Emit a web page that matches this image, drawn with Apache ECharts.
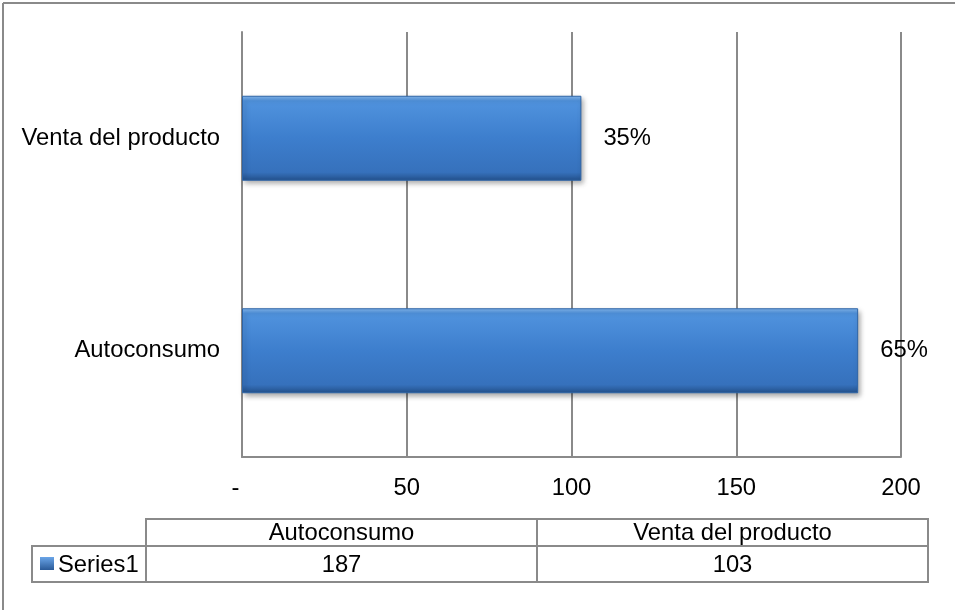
<!DOCTYPE html>
<html>
<head>
<meta charset="utf-8">
<script src="https://cdn.jsdelivr.net/npm/echarts@6/dist/echarts.min.js"></script>
<style>
html,body{margin:0;padding:0;background:#fff;}
#main{width:955px;height:610px;}
</style>
</head>
<body>
<div id="main"></div>
<script>
// ---- data ----
var categories = ['Autoconsumo', 'Venta del producto'];
var values = [187, 103];
var pctLabels = ['65%', '35%'];
var seriesName = 'Series1';
var xTicks = [0, 50, 100, 150, 200];

var FONT = 'Liberation Sans, Arial, sans-serif';
var FS = 23.8;
var LINE = '#8a8a8a';

var chart = echarts.init(document.getElementById('main'), null, {renderer: 'canvas'});

var barColor = new echarts.graphic.LinearGradient(0, 0, 0, 1, [
  {offset: 0, color: '#86baf0'},
  {offset: 0.06, color: '#5093de'},
  {offset: 0.5, color: '#3d7ecd'},
  {offset: 0.9, color: '#3671bc'},
  {offset: 1, color: '#23508a'}
]);

// table layout (positions in code)
var tblX0 = 146, tblX1 = 928, rowLabelX0 = 32;
var hdrY0 = 519, hdrY1 = 546, rowY1 = 582;
var colW = (tblX1 - tblX0) / categories.length;

var graphics = [];
// outer frame (left & top)
graphics.push({type: 'line', shape: {x1: 3, y1: 3, x2: 955, y2: 3}, style: {stroke: LINE, lineWidth: 2}, silent: true});
graphics.push({type: 'line', shape: {x1: 3, y1: 3, x2: 3, y2: 610}, style: {stroke: LINE, lineWidth: 2}, silent: true});
// header row box
graphics.push({type: 'rect', shape: {x: tblX0, y: hdrY0, width: tblX1 - tblX0, height: hdrY1 - hdrY0}, style: {fill: 'none', stroke: LINE, lineWidth: 2}});
// data row box including label cell
graphics.push({type: 'rect', shape: {x: rowLabelX0, y: hdrY1, width: tblX1 - rowLabelX0, height: rowY1 - hdrY1}, style: {fill: 'none', stroke: LINE, lineWidth: 2}});
graphics.push({type: 'line', shape: {x1: tblX0, y1: hdrY1, x2: tblX0, y2: rowY1}, style: {stroke: LINE, lineWidth: 2}});
for (var i = 1; i < categories.length; i++) {
  var xx = tblX0 + colW * i;
  graphics.push({type: 'line', shape: {x1: xx, y1: hdrY0, x2: xx, y2: rowY1}, style: {stroke: LINE, lineWidth: 2}});
}
categories.forEach(function (c, i) {
  var cx = tblX0 + colW * (i + 0.5);
  graphics.push({type: 'text', x: cx, y: (hdrY0 + hdrY1) / 2 + 1, style: {text: c, font: FS + 'px ' + FONT, fill: '#000', align: 'center', verticalAlign: 'middle'}});
  graphics.push({type: 'text', x: cx, y: (hdrY1 + rowY1) / 2 + 1, style: {text: String(values[i]), font: FS + 'px ' + FONT, fill: '#000', align: 'center', verticalAlign: 'middle'}});
});
// legend key
graphics.push({type: 'rect', shape: {x: 40, y: 557, width: 14, height: 13}, style: {fill: new echarts.graphic.LinearGradient(0, 0, 0, 1, [{offset: 0, color: '#6aa5e8'}, {offset: 1, color: '#2a5a98'}])}});
graphics.push({type: 'text', x: 58, y: (hdrY1 + rowY1) / 2 + 1, style: {text: seriesName, font: FS + 'px ' + FONT, fill: '#000', align: 'left', verticalAlign: 'middle'}});

chart.setOption({
  backgroundColor: '#fff',
  animation: false,
  grid: {left: 242, right: 54, top: 32, bottom: 153, containLabel: false},
  xAxis: {
    type: 'value',
    min: xTicks[0],
    max: xTicks[xTicks.length - 1],
    interval: xTicks[1] - xTicks[0],
    axisLine: {show: true, lineStyle: {color: LINE, width: 2}},
    axisTick: {show: false},
    splitLine: {show: true, lineStyle: {color: LINE, width: 2}},
    axisLabel: {
      margin: 19,
      color: '#000',
      fontSize: FS,
      fontFamily: FONT,
      formatter: function (v) { return v === 0 ? '-  ' : String(v); }
    }
  },
  yAxis: {
    type: 'category',
    data: categories,
    axisLine: {show: true, lineStyle: {color: LINE, width: 2}},
    axisTick: {show: false},
    splitLine: {show: false},
    axisLabel: {margin: 22, color: '#000', fontSize: FS, fontFamily: FONT, padding: [4, 0, 0, 0]}
  },
  series: [{
    name: seriesName,
    type: 'bar',
    data: values,
    barWidth: '40%',
    itemStyle: {
      color: barColor,
      borderColor: '#2e64a6',
      borderWidth: 1,
      shadowColor: 'rgba(0,0,0,0.35)',
      shadowBlur: 5,
      shadowOffsetX: 2,
      shadowOffsetY: 3
    },
    label: {
      show: true,
      position: 'right',
      distance: 22,
      color: '#000',
      fontSize: FS,
      fontFamily: FONT,
      padding: [4, 0, 0, 0],
      formatter: function (p) { return pctLabels[p.dataIndex]; }
    }
  }],
  graphic: graphics
});
</script>
</body>
</html>
